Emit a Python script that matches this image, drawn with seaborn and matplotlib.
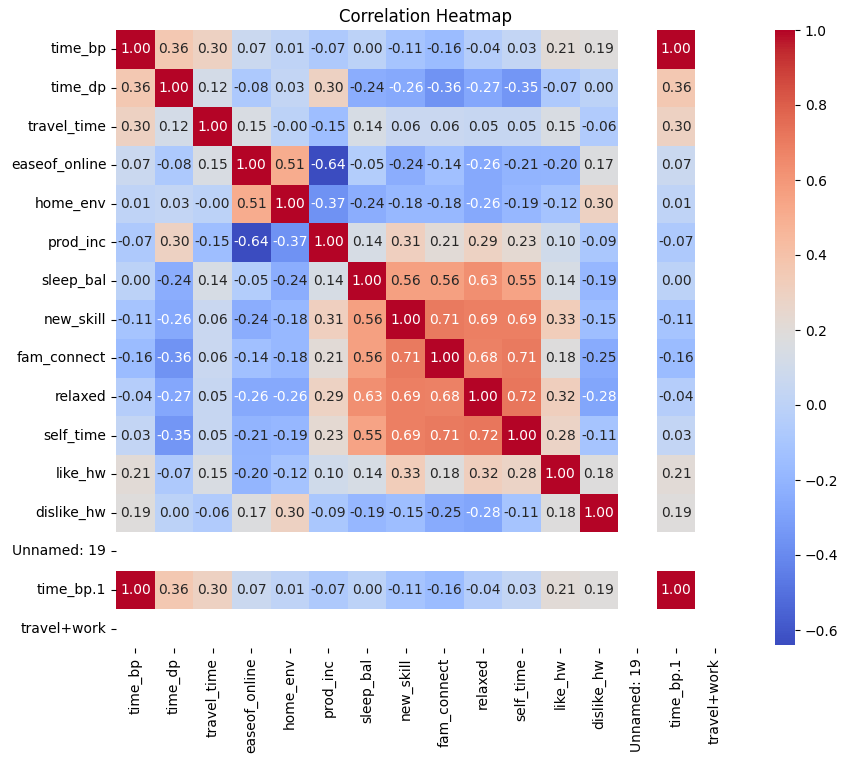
import numpy as np
import pandas as pd
import seaborn as sns
import matplotlib.pyplot as plt

cols = ['time_bp', 'time_dp', 'travel_time', 'easeof_online', 'home_env', 'prod_inc',
        'sleep_bal', 'new_skill', 'fam_connect', 'relaxed', 'self_time', 'like_hw',
        'dislike_hw', 'Unnamed: 19', 'time_bp.1', 'travel+work']
nan = np.nan
# correlation values (nan = empty rows/cols)
time_bp = [1.00, 0.36, 0.30, 0.07, 0.01, -0.07, 0.00, -0.11, -0.16, -0.04, 0.03, 0.21, 0.19, nan, 1.00, nan]
time_dp = [0.36, 1.00, 0.12, -0.08, 0.03, 0.30, -0.24, -0.26, -0.36, -0.27, -0.35, -0.07, 0.00, nan, 0.36, nan]
travel_time = [0.30, 0.12, 1.00, 0.15, -0.001, -0.15, 0.14, 0.06, 0.06, 0.05, 0.05, 0.15, -0.06, nan, 0.30, nan]
easeof_online = [0.07, -0.08, 0.15, 1.00, 0.51, -0.64, -0.05, -0.24, -0.14, -0.26, -0.21, -0.20, 0.17, nan, 0.07, nan]
home_env = [0.01, 0.03, -0.001, 0.51, 1.00, -0.37, -0.24, -0.18, -0.18, -0.26, -0.19, -0.12, 0.30, nan, 0.01, nan]
prod_inc = [-0.07, 0.30, -0.15, -0.64, -0.37, 1.00, 0.14, 0.31, 0.21, 0.29, 0.23, 0.10, -0.09, nan, -0.07, nan]
sleep_bal = [0.00, -0.24, 0.14, -0.05, -0.24, 0.14, 1.00, 0.56, 0.56, 0.63, 0.55, 0.14, -0.19, nan, 0.00, nan]
new_skill = [-0.11, -0.26, 0.06, -0.24, -0.18, 0.31, 0.56, 1.00, 0.71, 0.69, 0.69, 0.33, -0.15, nan, -0.11, nan]
fam_connect = [-0.16, -0.36, 0.06, -0.14, -0.18, 0.21, 0.56, 0.71, 1.00, 0.68, 0.71, 0.18, -0.25, nan, -0.16, nan]
relaxed = [-0.04, -0.27, 0.05, -0.26, -0.26, 0.29, 0.63, 0.69, 0.68, 1.00, 0.72, 0.32, -0.28, nan, -0.04, nan]
self_time = [0.03, -0.35, 0.05, -0.21, -0.19, 0.23, 0.55, 0.69, 0.71, 0.72, 1.00, 0.28, -0.11, nan, 0.03, nan]
like_hw = [0.21, -0.07, 0.15, -0.20, -0.12, 0.10, 0.14, 0.33, 0.18, 0.32, 0.28, 1.00, 0.18, nan, 0.21, nan]
dislike_hw = [0.19, 0.00, -0.06, 0.17, 0.30, -0.09, -0.19, -0.15, -0.25, -0.28, -0.11, 0.18, 1.00, nan, 0.19, nan]
unnamed_19 = [nan] * 16
time_bp_1 = time_bp
travel_work = [nan] * 16

corr = pd.DataFrame([time_bp, time_dp, travel_time, easeof_online, home_env, prod_inc,
                     sleep_bal, new_skill, fam_connect, relaxed, self_time, like_hw,
                     dislike_hw, unnamed_19, time_bp_1, travel_work],
                    index=cols, columns=cols)

fig = plt.figure(figsize=(8.58, 7.61), dpi=100)
ax = fig.add_axes([116/858, 1-648/761, 618/858, 618/761])
cax = fig.add_axes([775/858, 1-645/761, 20/858, 615/761])
sns.heatmap(corr, annot=True, fmt='.2f', cmap='coolwarm', square=True, ax=ax, cbar_ax=cax)
ax.set_title('Correlation Heatmap')
plt.savefig('out.png', dpi=100)
